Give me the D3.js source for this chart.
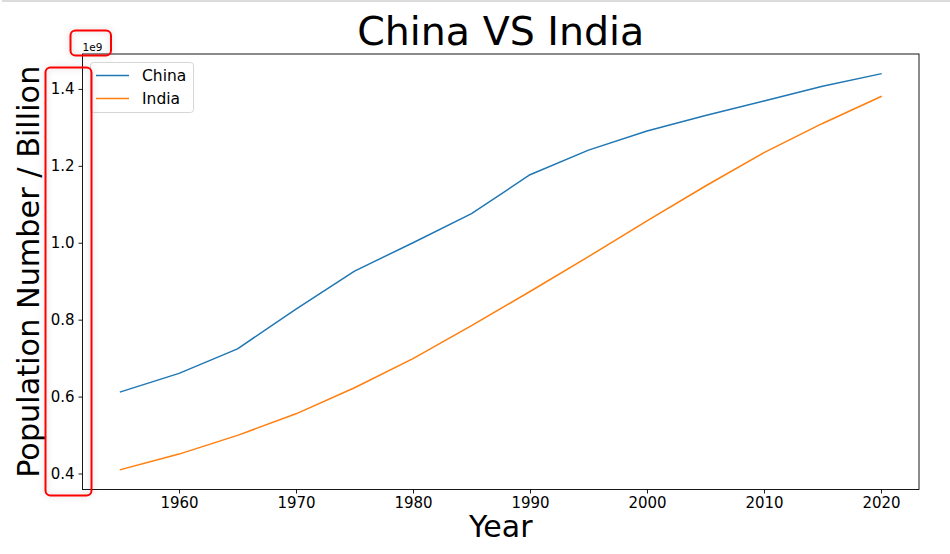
<!DOCTYPE html>
<html>
<head>
<meta charset="utf-8">
<script src="https://cdn.jsdelivr.net/npm/d3@7/dist/d3.min.js"></script>
<style>
  html, body { margin: 0; padding: 0; background: #fff; }
  svg { display: block; font-family: "DejaVu Sans", sans-serif; }
</style>
</head>
<body>
<svg id="chart" width="950" height="554"></svg>
<script>
const years = [1955, 1960, 1965, 1970, 1975, 1980, 1985, 1990, 1995, 2000, 2005, 2010, 2015, 2020];
const china = [612.2e6, 660.4e6, 724.2e6, 827.6e6, 926.2e6, 1000.1e6, 1075.6e6, 1176.9e6, 1240.9e6, 1290.6e6, 1330.8e6, 1368.8e6, 1406.8e6, 1439.3e6];
const india = [409.9e6, 450.5e6, 499.1e6, 555.2e6, 623.1e6, 698.9e6, 784.4e6, 873.3e6, 963.9e6, 1056.6e6, 1147.6e6, 1234.3e6, 1310.2e6, 1380.0e6];
const seriesNames = ["China", "India"];
const seriesColors = ["#1f77b4", "#ff7f0e"];
const xTicks = [1960, 1970, 1980, 1990, 2000, 2010, 2020];
const yTicks = [0.4e9, 0.6e9, 0.8e9, 1.0e9, 1.2e9, 1.4e9];

const svg = d3.select("#chart");
const pL = 82.5, pR = 919, pT = 54, pB = 489.5;

// top screenshot border
svg.append("line").attr("x1", 2).attr("x2", 950).attr("y1", 1).attr("y2", 1)
  .attr("stroke", "#cfcfcf").attr("stroke-width", 1.5);

// domains with matplotlib-like 5% margins
const xMin = d3.min(years), xMax = d3.max(years);
const xPad = (xMax - xMin) * 0.05;
const allVals = china.concat(india);
const yMin = d3.min(allVals), yMax = d3.max(allVals);
const yPad = (yMax - yMin) * 0.05;

const x = d3.scaleLinear().domain([xMin - xPad, xMax + xPad]).range([pL, pR]);
const y = d3.scaleLinear().domain([yMin - yPad, yMax + yPad]).range([pB, pT]);

// lines
const data = [china, india];
const line = d3.line().x((d, i) => x(years[i])).y(d => y(d));
data.forEach((s, k) => {
  svg.append("path").datum(s).attr("d", line)
    .attr("fill", "none").attr("stroke", seriesColors[k]).attr("stroke-width", 1.5)
    .attr("stroke-linejoin", "round").attr("stroke-linecap", "square");
});

// frame
svg.append("rect").attr("x", pL).attr("y", pT).attr("width", pR - pL).attr("height", pB - pT)
  .attr("fill", "none").attr("stroke", "#000").attr("stroke-width", 0.9);

// axes
const xAxis = d3.axisBottom(x).tickValues(xTicks).tickFormat(d3.format("d")).tickSizeOuter(0).tickSizeInner(4).tickPadding(4);
const gx = svg.append("g").attr("transform", `translate(0,${pB})`).call(xAxis);
gx.select(".domain").remove();
gx.selectAll("text").attr("font-size", 15).attr("font-family", "DejaVu Sans").attr("fill", "#000");
gx.selectAll("line").attr("stroke", "#000").attr("stroke-width", 0.9);

const yAxis = d3.axisLeft(y).tickValues(yTicks).tickFormat(d => (d / 1e9).toFixed(1)).tickSizeOuter(0).tickSizeInner(4).tickPadding(4);
const gy = svg.append("g").attr("transform", `translate(${pL},0)`).call(yAxis);
gy.select(".domain").remove();
gy.selectAll("text").attr("font-size", 15).attr("font-family", "DejaVu Sans").attr("fill", "#000");
gy.selectAll("line").attr("stroke", "#000").attr("stroke-width", 0.9);

// offset text
svg.append("text").attr("x", pL).attr("y", 51).attr("font-size", 10.5).text("1e9");

// title and labels
svg.append("text").attr("x", (pL + pR) / 2).attr("y", 45).attr("text-anchor", "middle")
  .attr("font-size", 39.5).text("China VS India");
svg.append("text").attr("x", (pL + pR) / 2).attr("y", 537).attr("text-anchor", "middle")
  .attr("font-size", 30).text("Year");
svg.append("text").attr("transform", `translate(39,${(pT + pB) / 2}) rotate(-90)`)
  .attr("text-anchor", "middle").attr("font-size", 30.3).text("Population Number / Billion");

// legend
const lg = svg.append("g");
lg.append("rect").attr("x", 90.5).attr("y", 62.5).attr("width", 103).attr("height", 50).attr("rx", 3)
  .attr("fill", "#fff").attr("fill-opacity", 0.8).attr("stroke", "#d6d6d6").attr("stroke-width", 1);
seriesNames.forEach((n, k) => {
  const yy = 75.5 + k * 23;
  lg.append("line").attr("x1", 96).attr("x2", 129).attr("y1", yy).attr("y2", yy)
    .attr("stroke", seriesColors[k]).attr("stroke-width", 1.5);
  lg.append("text").attr("x", 142).attr("y", yy + 5.5).attr("font-size", 15.5).text(n);
});

// red highlight boxes
const defs = svg.append("defs");
const f = defs.append("filter").attr("id", "glow").attr("x", "-30%").attr("y", "-30%").attr("width", "160%").attr("height", "160%");
f.append("feDropShadow").attr("dx", 0).attr("dy", 0).attr("stdDeviation", 3).attr("flood-color", "#000").attr("flood-opacity", 0.2);
svg.append("rect").attr("x", 70.5).attr("y", 30.5).attr("width", 40.5).attr("height", 25).attr("rx", 5)
  .attr("fill", "none").attr("stroke", "#ff0000").attr("stroke-width", 2).attr("filter", "url(#glow)");
svg.append("rect").attr("x", 45.5).attr("y", 67.5).attr("width", 46).attr("height", 428).attr("rx", 5)
  .attr("fill", "none").attr("stroke", "#ff0000").attr("stroke-width", 2).attr("filter", "url(#glow)");
</script>
</body>
</html>
